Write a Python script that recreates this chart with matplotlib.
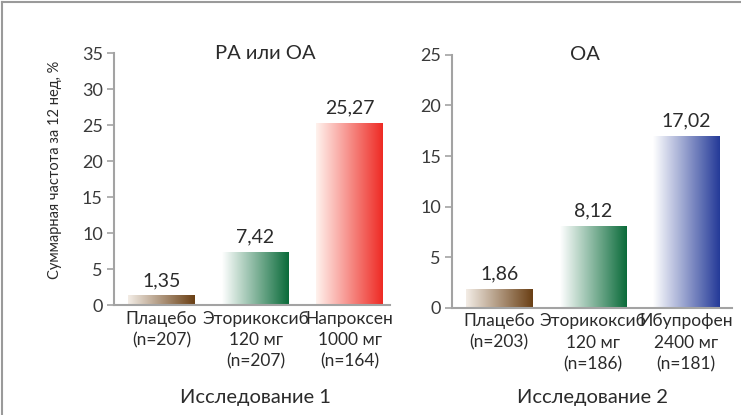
import matplotlib
matplotlib.use('Agg')
import matplotlib.pyplot as plt
import numpy as np
from matplotlib.colors import LinearSegmentedColormap
from matplotlib.lines import Line2D

# Study 1 (RA or OA)
labels_1 = ['Плацебо\n(n=207)', 'Эторикоксиб\n120 мг\n(n=207)', 'Напроксен\n1000 мг\n(n=164)']
values_1 = [1.35, 7.42, 25.27]
colors_1 = ['#6a3f14', '#0a6b3a', '#ee2a24']
starts_1 = ['#f3ede6', '#ffffff', '#fff3ee']

# Study 2 (OA)
labels_2 = ['Плацебо\n(n=203)', 'Эторикоксиб\n120 мг\n(n=186)', 'Ибупрофен\n2400 мг\n(n=181)']
values_2 = [1.86, 8.12, 17.02]
colors_2 = ['#6a3f14', '#0a6b3a', '#243a98']
starts_2 = ['#f3ede6', '#ffffff', '#ffffff']

plt.rcParams['font.family'] = ['Lato', 'DejaVu Sans']
text_col = '#2b2b2b'
axis_col = '#a3a3a3'

fig = plt.figure(figsize=(7.41, 4.15), dpi=100)
ax1 = fig.add_axes([0.1538, 0.265, 0.3725, 0.607])
ax2 = fig.add_axes([0.610, 0.258, 0.378, 0.610])

grad = np.linspace(0, 1, 256).reshape(1, -1)


def draw(ax, labels, values, colors, starts, ymax, title, tx, study, sy, xlim):
    x = np.arange(len(values))
    bars = ax.bar(x, values, width=0.71, color='none', edgecolor='none')
    for b, c, s, v in zip(bars, colors, starts, values):
        cmap = LinearSegmentedColormap.from_list('g', [s, c])
        im = ax.imshow(grad, cmap=cmap, aspect='auto',
                       extent=[b.get_x(), b.get_x() + b.get_width(), 0, b.get_height()],
                       zorder=2)
        im.set_clip_path(b)
        ax.text(b.get_x() + b.get_width() / 2, v + ymax * 0.025, f'{v:.2f}'.replace('.', ','),
                ha='center', va='bottom', fontsize=14, color=text_col)
    ax.set_xlim(*xlim)
    ax.set_ylim(0, ymax)
    ax.set_yticks(np.arange(0, ymax + 1, 5))
    ax.set_xticks(x)
    ax.set_xticklabels(labels, fontsize=12.5, color=text_col, linespacing=1.4)
    ax.tick_params(axis='x', length=0, pad=4)
    ax.tick_params(axis='y', length=5, width=1.2, color=axis_col, labelsize=13,
                   labelcolor='#3a3a3a', pad=3)
    for sp in ['top', 'right']:
        ax.spines[sp].set_visible(False)
    for sp in ['left', 'bottom']:
        ax.spines[sp].set_color(axis_col)
        ax.spines[sp].set_linewidth(1.5)
    ax.text(tx, 1.0, title, transform=ax.transAxes, ha='center', va='center',
            fontsize=14.5, color=text_col)
    ax.text(1.0, sy, study, ha='center', va='center',
            transform=ax.get_xaxis_transform(), fontsize=14.5, color=text_col)


draw(ax1, labels_1, values_1, colors_1, starts_1, 35, 'РА или ОА', 0.547,
     'Исследование 1', -0.367, (-0.505, 2.43))
draw(ax2, labels_2, values_2, colors_2, starts_2, 25, 'ОА', 0.475,
     'Исследование 2', -0.354, (-0.504, 2.49))

ax1.set_ylabel('Суммарная частота за 12 нед, %', fontsize=10.5, color=text_col)
ax1.yaxis.set_label_coords(-0.19, 0.536)

fig.add_artist(Line2D([0.003, 0.003], [0, 0.996], transform=fig.transFigure,
                      color='#9a9a9a', lw=1.5))
fig.add_artist(Line2D([0.003, 1.0], [0.996, 0.996], transform=fig.transFigure,
                      color='#9a9a9a', lw=1.5))

fig.savefig('out.png', dpi=100)
